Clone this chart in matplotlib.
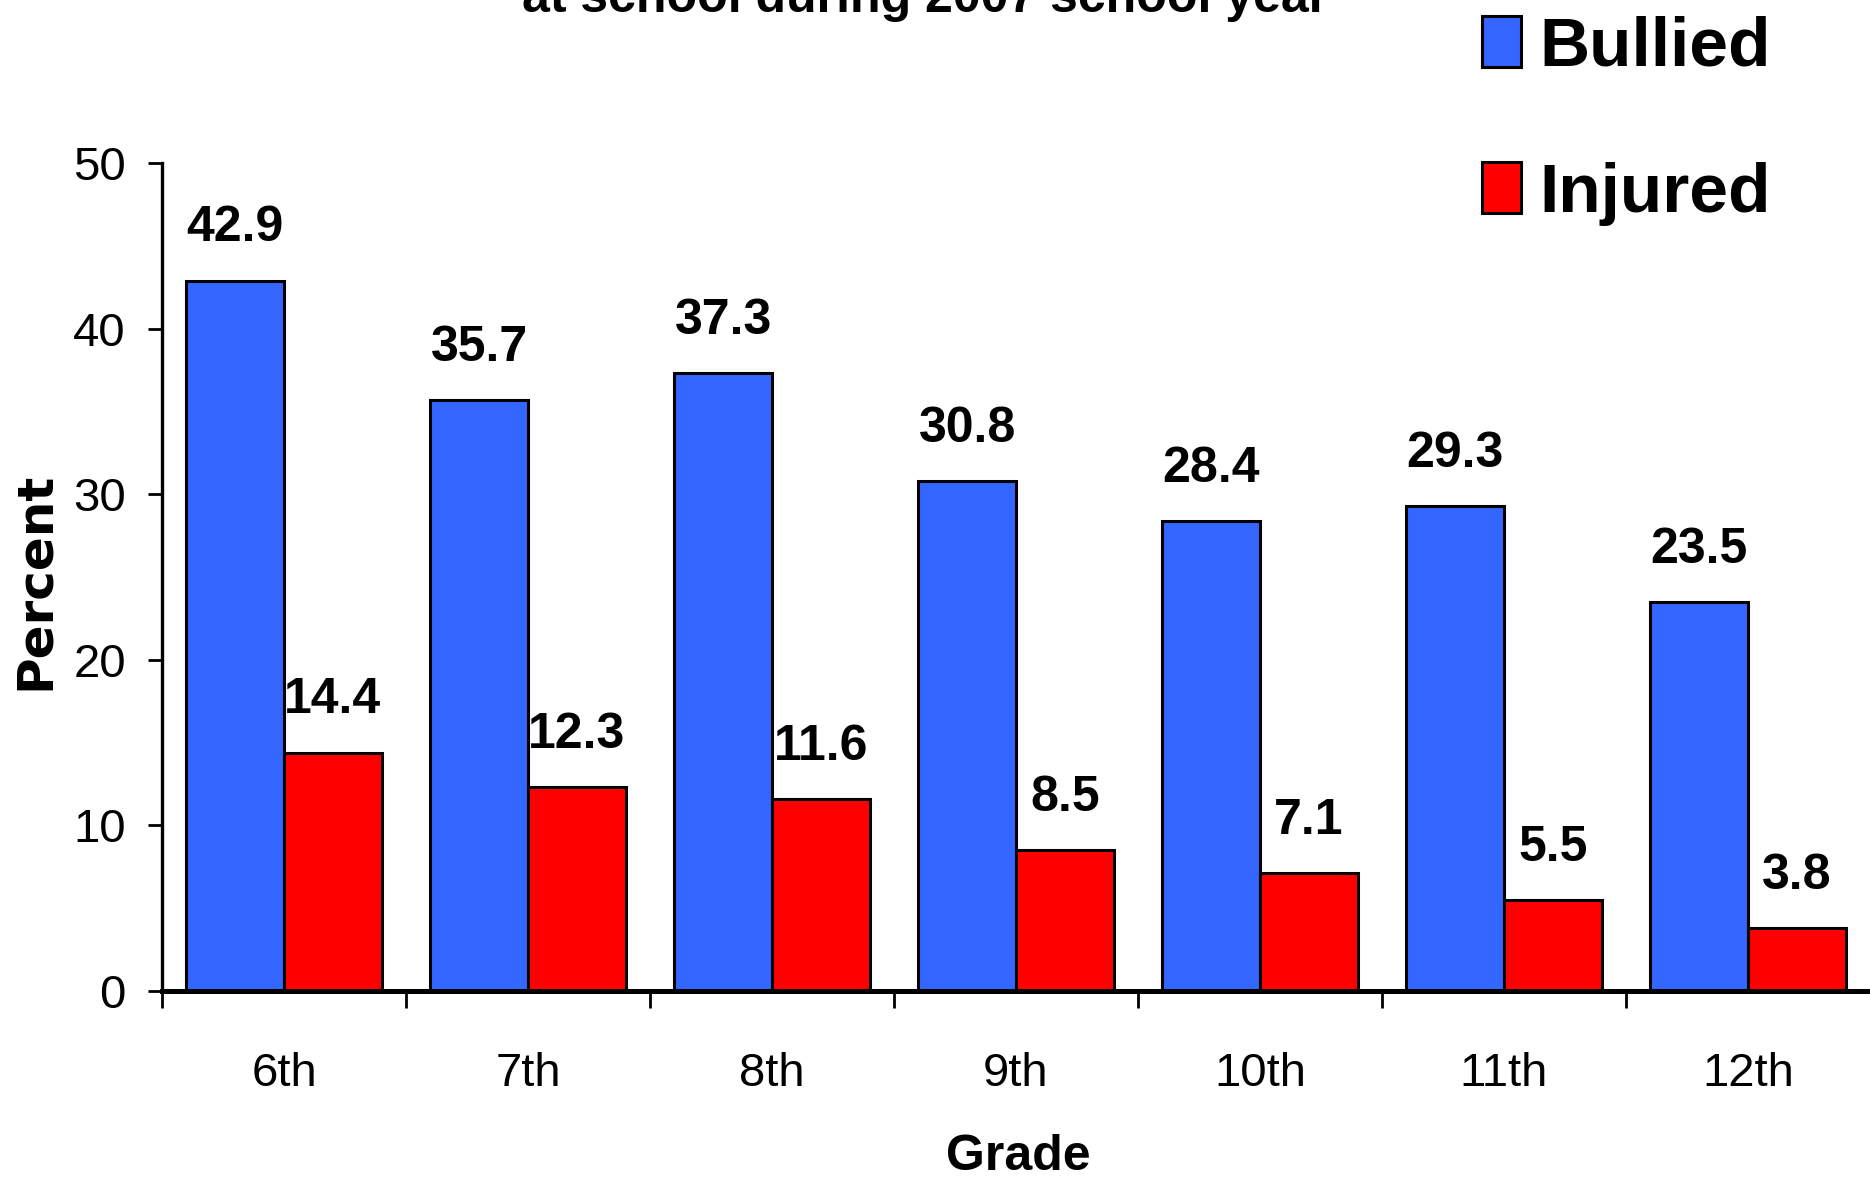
import numpy as np
import matplotlib
matplotlib.use('Agg')
import matplotlib.pyplot as plt
from matplotlib.ticker import FixedLocator

plt.rcParams['font.family'] = ['Liberation Sans', 'DejaVu Sans']

grades = ['6th', '7th', '8th', '9th', '10th', '11th', '12th']
bullied = [42.9, 35.7, 37.3, 30.8, 28.4, 29.3, 23.5]
injured = [14.4, 12.3, 11.6, 8.5, 7.1, 5.5, 3.8]
yticks = [0, 10, 20, 30, 40, 50]

W, H = 1870, 1182
fig = plt.figure(figsize=(W / 100, H / 100), dpi=100)
ax = fig.add_axes([162 / W, 1 - 991 / H, 1 - 162 / W, (991 - 163) / H])

x = np.arange(len(grades))
b1 = ax.bar(x - 0.2, bullied, 0.4, color='#3366FF', edgecolor='black', linewidth=2.2, label='Bullied')
b2 = ax.bar(x + 0.2, injured, 0.4, color='#FF0000', edgecolor='black', linewidth=2.2, label='Injured')

# value labels above the bars
ax.bar_label(b1, fmt='%.1f', padding=21, fontsize=36, fontweight='bold')
ax.bar_label(b2, fmt='%.1f', padding=21, fontsize=36, fontweight='bold')

ax.set_xlim(-0.5, len(grades) - 0.5)
ax.set_ylim(0, 50)
ax.set_yticks(yticks)
ax.tick_params(axis='y', direction='out', length=10, width=2, labelsize=34, pad=16)

ax.set_xticks(x)
ax.set_xticklabels(grades)
ax.xaxis.set_minor_locator(FixedLocator(np.arange(-0.5, len(grades) - 0.5, 1.0)))
ax.tick_params(axis='x', which='major', length=0, labelsize=34, pad=44)
ax.tick_params(axis='x', which='minor', direction='out', length=12, width=2)

for s in ['top', 'right']:
    ax.spines[s].set_visible(False)
ax.spines['left'].set_linewidth(2.4)
ax.spines['bottom'].set_linewidth(3.6)

fig.text(35 / W, 1 - 581 / H, 'Percent', rotation=90, ha='center', va='center',
         fontsize=36, fontweight='bold', family='DejaVu Sans')
fig.text(1018 / W, 12 / H, 'Grade', ha='center', va='baseline',
         fontsize=36, fontweight='bold')
# title is mostly above the top edge, as in the original
fig.text(925 / W, 1 - 12 / H, 'at school during 2007 school year', ha='center', va='baseline',
         fontsize=36, fontweight='bold')

fig.legend(handles=[b1, b2], loc='upper left', bbox_to_anchor=(1482 / W, 1 - 16 / H),
           frameon=False, prop={'size': 50, 'weight': 'bold'},
           handlelength=0.56, handleheight=0.75, handletextpad=0.27,
           labelspacing=1.18, borderpad=0, borderaxespad=0)

fig.savefig('out.png', dpi=100)
